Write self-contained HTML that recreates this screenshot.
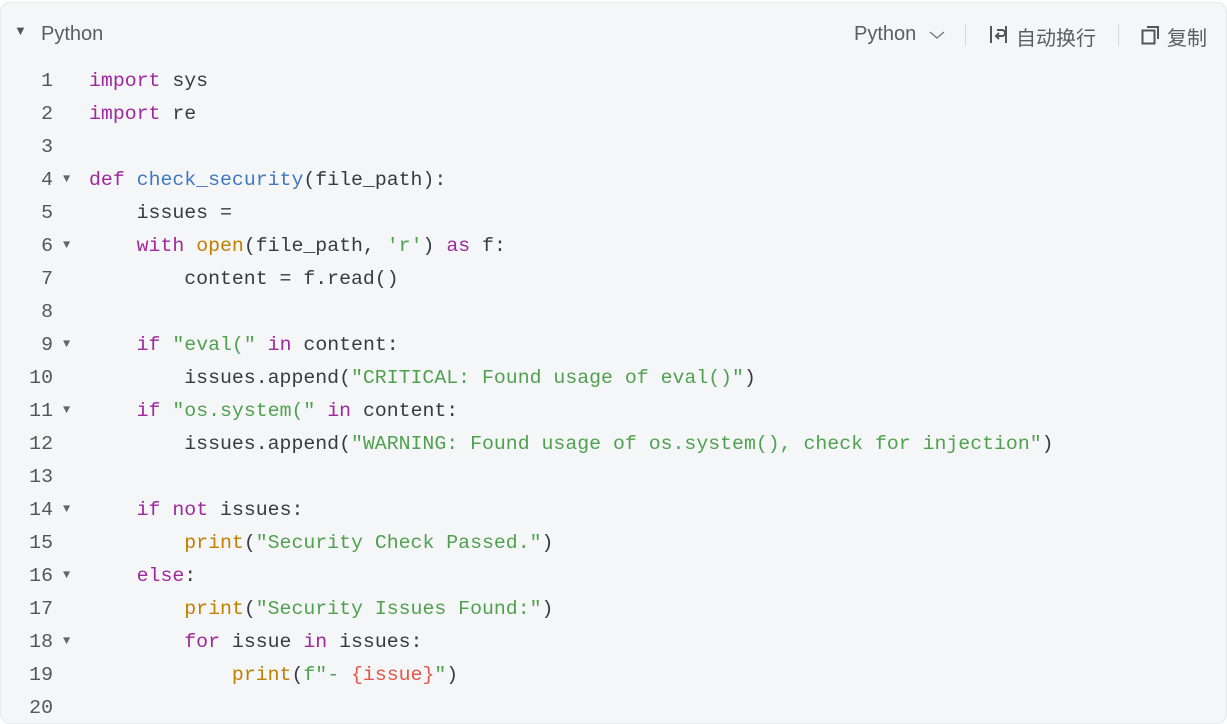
<!DOCTYPE html>
<html><head><meta charset="utf-8"><style>
html,body{margin:0;padding:0;background:#fff;width:1227px;height:701px;overflow:hidden;}
.box{position:absolute;left:0;top:2px;width:1225px;height:720px;background:#f5f6f8;border:1px solid #e8e9ec;border-radius:10px;overflow:hidden;}
.hdr{position:absolute;top:0;left:0;right:0;height:62px;font-family:"Liberation Sans","Noto Sans CJK SC",sans-serif;color:#5a5d63;font-size:20px;}
.code{position:absolute;left:0;top:61px;font-family:"Liberation Mono",monospace;font-size:19.85px;color:#383a42;}
.ln{position:absolute;left:0;width:52px;text-align:right;color:#555;height:33px;line-height:33px;}
.tg{position:absolute;left:62px;color:#666;font-size:12px;line-height:33px;}
.tx{position:absolute;left:88px;white-space:pre;line-height:33px;}
.k{color:#a0289e}.f{color:#4078c0}.b{color:#c08000}.s{color:#50a14f}.r{color:#e45649}
</style></head><body>
<div class="box">
<div class="hdr">
<span style="position:absolute;left:13px;top:20px;font-size:13px;color:#555">▼</span>
<span style="position:absolute;left:40px;top:20px;">Python</span>
<span style="position:absolute;left:853px;top:20px;">Python</span>
<svg style="position:absolute;left:928px;top:27px" width="16" height="10"><path d="M1 2 L8 8 L15 2" fill="none" stroke="#777" stroke-width="1.3"/></svg>
<div style="position:absolute;left:964px;top:21px;width:1px;height:22px;background:#d5d7db"></div>
<svg style="position:absolute;left:988px;top:22px" width="20" height="20"><path d="M2 1v17M17 1v17M8 5h5a3 3 0 0 1 0 6H8m2-3l-3 3 3 3" fill="none" stroke="#555" stroke-width="2"/></svg>
<span style="position:absolute;left:1015px;top:19px;">自动换行</span>
<div style="position:absolute;left:1117px;top:21px;width:1px;height:22px;background:#d5d7db"></div>
<svg style="position:absolute;left:1140px;top:22px" width="20" height="20"><rect x="1.5" y="5.5" width="12" height="13" fill="none" stroke="#555" stroke-width="2"/><path d="M6 2h11v12" fill="none" stroke="#555" stroke-width="2"/></svg>
<span style="position:absolute;left:1166px;top:19px;">复制</span>
</div>
<div class="code">
<div class="ln" style="top:0">1</div><div class="tx" style="top:0"><span class="k">import</span> sys</div>
<div class="ln" style="top:33px">2</div><div class="tx" style="top:33px"><span class="k">import</span> re</div>
<div class="ln" style="top:66px">3</div>
<div class="ln" style="top:99px">4</div><div class="tg" style="top:99px">▼</div><div class="tx" style="top:99px"><span class="k">def</span> <span class="f">check_security</span>(file_path):</div>
<div class="ln" style="top:132px">5</div><div class="tx" style="top:132px">    issues =</div>
<div class="ln" style="top:165px">6</div><div class="tg" style="top:165px">▼</div><div class="tx" style="top:165px">    <span class="k">with</span> <span class="b">open</span>(file_path, <span class="s">'r'</span>) <span class="k">as</span> f:</div>
<div class="ln" style="top:198px">7</div><div class="tx" style="top:198px">        content = f.read()</div>
<div class="ln" style="top:231px">8</div>
<div class="ln" style="top:264px">9</div><div class="tg" style="top:264px">▼</div><div class="tx" style="top:264px">    <span class="k">if</span> <span class="s">"eval("</span> <span class="k">in</span> content:</div>
<div class="ln" style="top:297px">10</div><div class="tx" style="top:297px">        issues.append(<span class="s">"CRITICAL: Found usage of eval()"</span>)</div>
<div class="ln" style="top:330px">11</div><div class="tg" style="top:330px">▼</div><div class="tx" style="top:330px">    <span class="k">if</span> <span class="s">"os.system("</span> <span class="k">in</span> content:</div>
<div class="ln" style="top:363px">12</div><div class="tx" style="top:363px">        issues.append(<span class="s">"WARNING: Found usage of os.system(), check for injection"</span>)</div>
<div class="ln" style="top:396px">13</div>
<div class="ln" style="top:429px">14</div><div class="tg" style="top:429px">▼</div><div class="tx" style="top:429px">    <span class="k">if</span> <span class="k">not</span> issues:</div>
<div class="ln" style="top:462px">15</div><div class="tx" style="top:462px">        <span class="b">print</span>(<span class="s">"Security Check Passed."</span>)</div>
<div class="ln" style="top:495px">16</div><div class="tg" style="top:495px">▼</div><div class="tx" style="top:495px">    <span class="k">else</span>:</div>
<div class="ln" style="top:528px">17</div><div class="tx" style="top:528px">        <span class="b">print</span>(<span class="s">"Security Issues Found:"</span>)</div>
<div class="ln" style="top:561px">18</div><div class="tg" style="top:561px">▼</div><div class="tx" style="top:561px">        <span class="k">for</span> issue <span class="k">in</span> issues:</div>
<div class="ln" style="top:594px">19</div><div class="tx" style="top:594px">            <span class="b">print</span>(<span class="s">f"- </span><span class="r">{issue}</span><span class="s">"</span>)</div>
<div class="ln" style="top:627px">20</div>
</div>
</div>
</body></html>
